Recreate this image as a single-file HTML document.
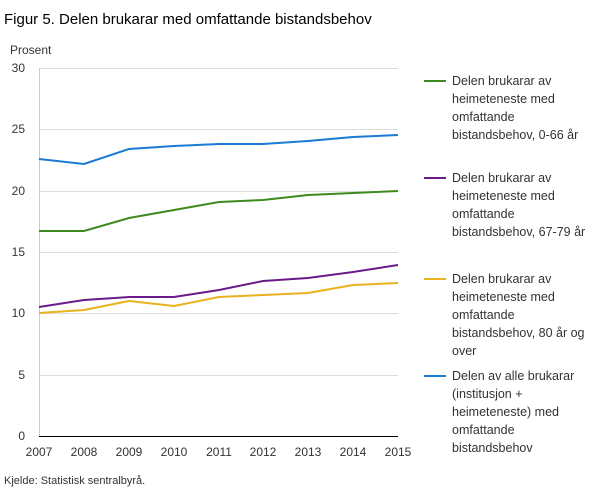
<!DOCTYPE html>
<html><head><meta charset="utf-8"><style>
body{margin:0;background:#fff;font-family:"Liberation Sans",sans-serif;}
</style></head><body>
<svg width="609" height="489" xmlns="http://www.w3.org/2000/svg" font-family="Liberation Sans, sans-serif">
<rect width="609" height="489" fill="#fff"/>
<text x="4" y="24" font-size="15" fill="#000">Figur 5. Delen  brukarar med omfattande bistandsbehov</text>
<text x="10" y="54" font-size="12" fill="#333">Prosent</text>
<g stroke="#ddd" stroke-width="1">
<line x1="39" x2="398" y1="68.5" y2="68.5"/>
<line x1="39" x2="398" y1="129.5" y2="129.5"/>
<line x1="39" x2="398" y1="191.5" y2="191.5"/>
<line x1="39" x2="398" y1="252.5" y2="252.5"/>
<line x1="39" x2="398" y1="313.5" y2="313.5"/>
<line x1="39" x2="398" y1="375.5" y2="375.5"/>
</g>
<line x1="39" x2="398" y1="436.5" y2="436.5" stroke="#000"/>
<line x1="39.5" x2="39.5" y1="68" y2="436" stroke="#ccc"/>
<g font-size="12" fill="#333" text-anchor="end">
<text x="25" y="72">30</text><text x="25" y="133">25</text><text x="25" y="195">20</text>
<text x="25" y="256">15</text><text x="25" y="317">10</text><text x="25" y="379">5</text><text x="25" y="440">0</text>
</g>
<g font-size="12" fill="#333" text-anchor="middle">
<text x="39" y="456">2007</text><text x="84" y="456">2008</text><text x="129" y="456">2009</text>
<text x="174" y="456">2010</text><text x="219" y="456">2011</text><text x="263" y="456">2012</text>
<text x="308" y="456">2013</text><text x="353" y="456">2014</text><text x="398" y="456">2015</text>
</g>
<g fill="none" stroke-width="2">
<polyline stroke="#1a7bd4" points="39,159 84,164 129,149 174,146 219,144 263,144 308,141 353,137 398,135"/>
<polyline stroke="#3f8a1e" points="39,231 84,231 129,218 174,210 219,202 263,200 308,195 353,193 398,191"/>
<polyline stroke="#6a1a8a" points="39,307 84,300 129,297 174,297 219,290 263,281 308,278 353,272 398,265"/>
<polyline stroke="#e9b21f" points="39,313 84,310 129,301 174,306 219,297 263,295 308,293 353,285 398,283"/>
</g>
<g font-size="12.5" fill="#333">
<line x1="424" x2="446" y1="81" y2="81" stroke="#3f8a1e" stroke-width="2"/>
<text x="452" y="85">Delen brukarar av</text><text x="452" y="103">heimeteneste med</text><text x="452" y="121">omfattande</text><text x="452" y="139">bistandsbehov, 0-66 år</text>
<line x1="424" x2="446" y1="178" y2="178" stroke="#6a1a8a" stroke-width="2"/>
<text x="452" y="182">Delen brukarar av</text><text x="452" y="200">heimeteneste med</text><text x="452" y="218">omfattande</text><text x="452" y="236">bistandsbehov, 67-79 år</text>
<line x1="424" x2="446" y1="279" y2="279" stroke="#e9b21f" stroke-width="2"/>
<text x="452" y="283">Delen brukarar av</text><text x="452" y="301">heimeteneste med</text><text x="452" y="319">omfattande</text><text x="452" y="337">bistandsbehov, 80 år og</text><text x="452" y="355">over</text>
<line x1="424" x2="446" y1="376" y2="376" stroke="#1a7bd4" stroke-width="2"/>
<text x="452" y="380">Delen av alle brukarar</text><text x="452" y="398">(institusjon +</text><text x="452" y="416">heimeteneste) med</text><text x="452" y="434">omfattande</text><text x="452" y="452">bistandsbehov</text>
</g>
<text x="4" y="484" font-size="11" fill="#333">Kjelde: Statistisk sentralbyrå.</text>
</svg>
</body></html>
